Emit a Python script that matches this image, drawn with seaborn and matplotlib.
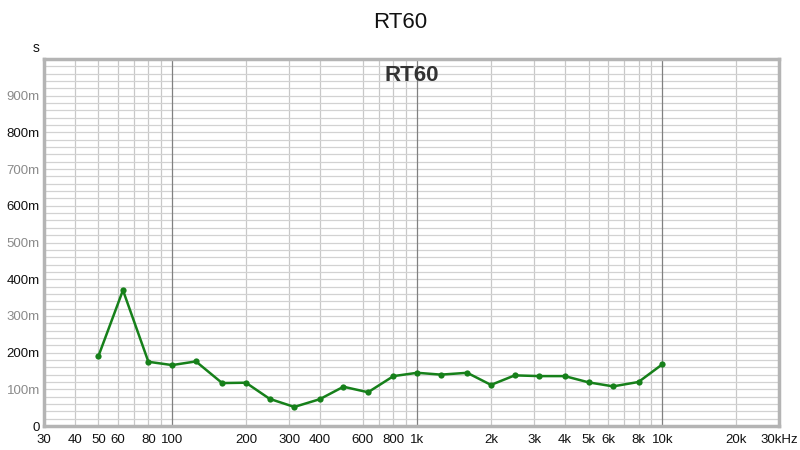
import matplotlib
matplotlib.use("Agg")
import matplotlib.pyplot as plt
import matplotlib.ticker as mticker
import seaborn as sns
import pandas as pd

# 1/3 octave band centres (Hz) and RT60 values (s)
freqs = [50, 63, 80, 100, 125, 160, 200, 250, 315, 400, 500, 630,
         800, 1000, 1250, 1600, 2000, 2500, 3150, 4000, 5000, 6300, 8000, 10000]
rt60 = [0.190, 0.370, 0.175, 0.166, 0.176, 0.117, 0.118, 0.074, 0.052, 0.073, 0.107, 0.092,
        0.136, 0.145, 0.140, 0.145, 0.112, 0.138, 0.136, 0.136, 0.119, 0.108, 0.120, 0.168]

xtick_vals = [30, 40, 50, 60, 80, 100, 200, 300, 400, 600, 800, 1000,
              2000, 3000, 4000, 5000, 6000, 8000, 10000, 20000, 30000]
xtick_labels = ['30', '40', '50', '60', '80', '100', '200', '300', '400', '600', '800', '1k',
                '2k', '3k', '4k', '5k', '6k', '8k', '10k', '20k', '30kHz']
xgrid_vals = [40, 50, 60, 70, 80, 90, 200, 300, 400, 600, 700, 800, 900,
              2000, 3000, 4000, 5000, 6000, 7000, 8000, 9000, 20000]
decades = [100, 1000, 10000]
ytick_vals = [0, 0.1, 0.2, 0.3, 0.4, 0.5, 0.6, 0.7, 0.8, 0.9]
ytick_labels = ['0', '100m', '200m', '300m', '400m', '500m', '600m', '700m', '800m', '900m']

df = pd.DataFrame({'freq': freqs, 'rt60': rt60})

sns.set_style('white')
plt.rcParams['font.family'] = ['Liberation Sans', 'DejaVu Sans']

fig = plt.figure(figsize=(8, 4.5), dpi=100)
ax = fig.add_axes([0.055, 0.0533, 0.919, 0.8156])

sns.lineplot(data=df, x='freq', y='rt60', color='#16801a', linewidth=1.8,
             marker='o', markersize=4.5, markeredgewidth=0, ax=ax, zorder=5)

ax.set_xscale('log')
ax.set_xlim(30, 30000)
ax.set_ylim(0, 1.0)

# ticks + grid
ax.xaxis.set_major_locator(mticker.FixedLocator(xtick_vals))
ax.xaxis.set_major_formatter(mticker.FixedFormatter(xtick_labels))
ax.xaxis.set_minor_locator(mticker.FixedLocator(xgrid_vals))
ax.xaxis.set_minor_formatter(mticker.NullFormatter())
ax.xaxis.remove_overlapping_locs = False
ax.yaxis.set_major_locator(mticker.FixedLocator(ytick_vals))
ax.yaxis.set_major_formatter(mticker.FixedFormatter(ytick_labels))
ax.yaxis.set_minor_locator(mticker.MultipleLocator(0.02))

ax.grid(False)
ax.xaxis.grid(True, which='minor', color='#c8c8c8', linewidth=0.9)
ax.yaxis.grid(True, which='both', color='#d2d2d2', linewidth=0.9)
for d in decades:
    ax.axvline(d, color='#808080', linewidth=0.9, zorder=1)

ax.tick_params(axis='both', which='both', length=0)
ax.tick_params(axis='x', pad=6, labelsize=9.5)
ax.tick_params(axis='y', pad=3, labelsize=9.5)
for i, lab in enumerate(ax.get_yticklabels()):
    lab.set_color('#111111' if i % 2 == 0 else '#8a8a8a')
for lab in ax.get_xticklabels():
    lab.set_color('#111111')

ax.set_xlabel('')
ax.set_ylabel('')

for sp in ax.spines.values():
    sp.set_color('#b4b4b4')
    sp.set_linewidth(2.5)
    sp.set_visible(True)

ax.text(0.5, 0.955, 'RT60', transform=ax.transAxes, ha='center', va='center',
        fontsize=16, fontweight='bold', color='#333333', zorder=6)

fig.text(0.5, 0.95, 'RT60', ha='center', va='center', fontsize=16, color='#111111')
fig.text(0.045, 0.893, 's', ha='center', va='center', fontsize=10, color='#111111')

fig.savefig('out.png', dpi=100, facecolor='white')
